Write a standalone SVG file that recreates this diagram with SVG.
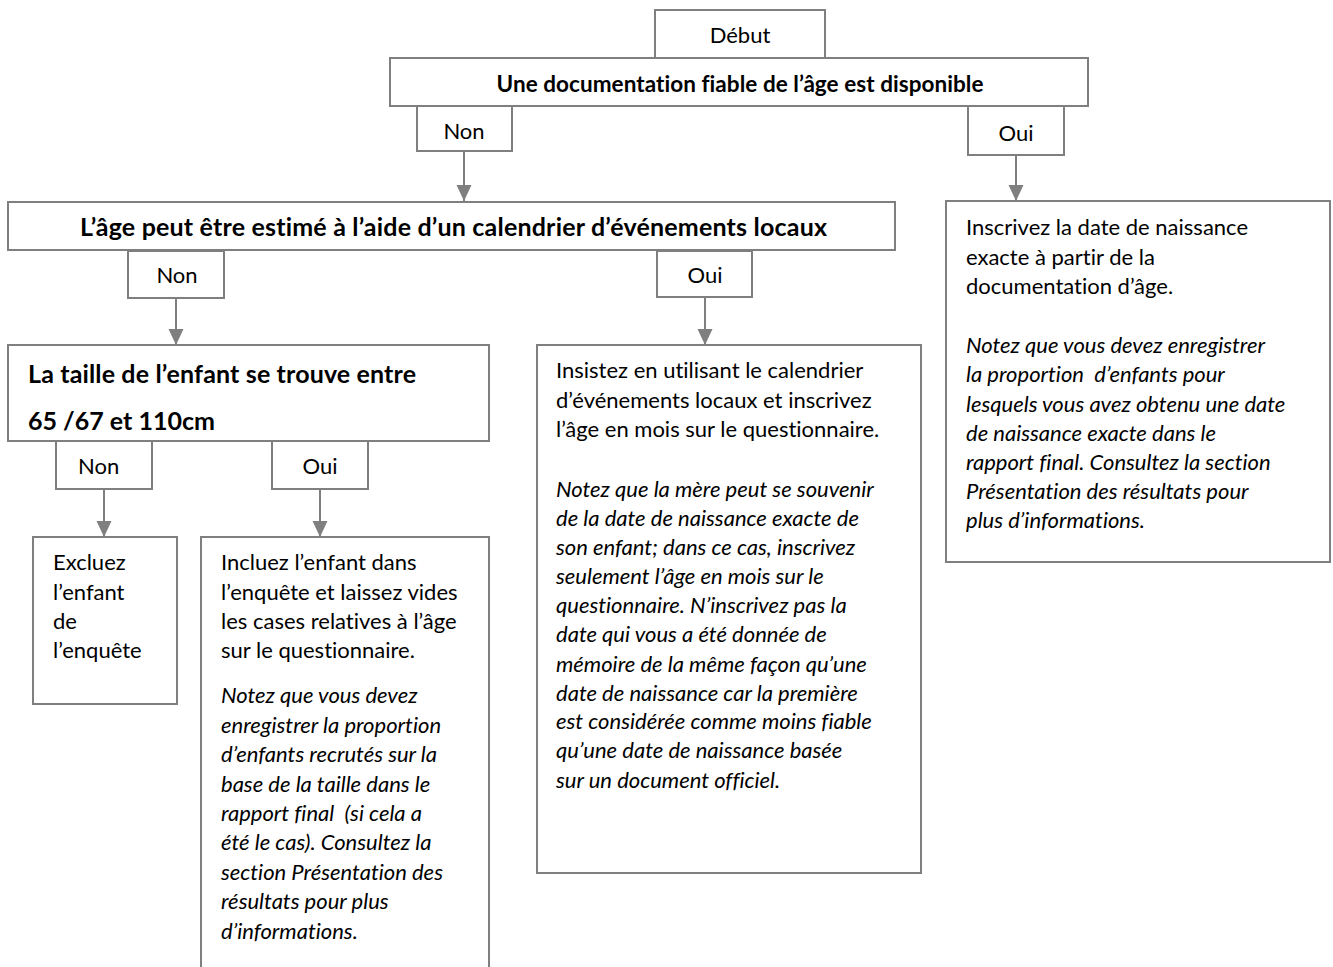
<svg xmlns="http://www.w3.org/2000/svg" width="1333" height="967" viewBox="0 0 1333 967">
<style>
.box{fill:#fff;stroke:#7f7f7f;stroke-width:2}
.t{font-family:Lato,"Liberation Sans",sans-serif;font-size:22px;fill:#000;white-space:pre;font-variant-ligatures:none}
.i{font-style:italic}
.c{text-anchor:middle}
.b{font-weight:bold}
.h1{font-size:22.5px}
.h2{font-size:25px}
.conn{stroke:#7f7f7f;stroke-width:2;fill:none;marker-end:url(#arr)}
</style>
<defs>
<marker id="arr" markerUnits="userSpaceOnUse" markerWidth="16" markerHeight="16" viewBox="0 0 16 16" refX="16" refY="8" orient="auto">
<path d="M0,0.5 L16,8 L0,15.5 z" fill="#7f7f7f"/>
</marker>
<clipPath id="clip2"><rect x="8" y="203" width="887" height="37"/></clipPath>
</defs>
<rect width="1333" height="967" fill="#fff"/>

<g id="connectors">
<line class="conn" x1="464" y1="151" x2="464" y2="201"/>
<line class="conn" x1="1016" y1="155" x2="1016" y2="201"/>
<line class="conn" x1="176" y1="298" x2="176" y2="345"/>
<line class="conn" x1="705" y1="297" x2="705" y2="345"/>
<line class="conn" x1="104" y1="489" x2="104" y2="537"/>
<line class="conn" x1="320" y1="489" x2="320" y2="537"/>
</g>

<g id="debut">
<rect class="box" x="655" y="10" width="170" height="48"/>
<text class="t c" x="740" y="43">Début</text>
</g>

<g id="q1">
<rect class="box" x="390" y="58" width="698" height="48"/>
<text class="t c b h1" x="740" y="92" textLength="487" lengthAdjust="spacing">Une documentation fiable de l’âge est disponible</text>
</g>

<g id="q1-non">
<rect class="box" x="417" y="106" width="95" height="45"/>
<text class="t c" x="464" y="139">Non</text>
</g>

<g id="q1-oui">
<rect class="box" x="968" y="106" width="96" height="49"/>
<text class="t c" x="1016" y="141">Oui</text>
</g>

<g id="q2">
<rect class="box" x="8" y="202" width="887" height="48"/>
<text class="t b h2" x="80" y="236" textLength="747" lengthAdjust="spacing" clip-path="url(#clip2)">L’âge peut être estimé à l’aide d’un calendrier d’événements locaux</text>
</g>

<g id="q2-non">
<rect class="box" x="128" y="251" width="96" height="47"/>
<text class="t c" x="177" y="283">Non</text>
</g>

<g id="q2-oui">
<rect class="box" x="657" y="251" width="95" height="46"/>
<text class="t c" x="705" y="283">Oui</text>
</g>

<g id="q3">
<rect class="box" x="8" y="345" width="481" height="96"/>
<text class="t b h2" x="28" y="383" textLength="388" lengthAdjust="spacing">La taille de l’enfant se trouve entre</text>
<text class="t b h2" x="28" y="430">65 /67 et 110cm</text>
</g>

<g id="q3-non">
<rect class="box" x="56" y="441" width="96" height="48"/>
<text class="t" x="78" y="474">Non</text>
</g>

<g id="q3-oui">
<rect class="box" x="272" y="441" width="96" height="48"/>
<text class="t c" x="320" y="474">Oui</text>
</g>

<g id="exclude">
<rect class="box" x="33" y="537" width="144" height="167"/>
<text class="t" x="53" y="570">Excluez</text>
<text class="t" x="53" y="600">l’enfant</text>
<text class="t" x="53" y="629">de</text>
<text class="t" x="53" y="658">l’enquête</text>
</g>

<g id="include">
<rect class="box" x="201" y="537" width="288" height="450"/>
<text class="t" x="221" y="570">Incluez l’enfant dans</text>
<text class="t" x="221" y="600">l’enquête et laissez vides</text>
<text class="t" x="221" y="629">les cases relatives à l’âge</text>
<text class="t" x="221" y="658">sur le questionnaire.</text>
<text class="t i" x="221" y="703">Notez que vous devez</text>
<text class="t i" x="221" y="733">enregistrer la proportion</text>
<text class="t i" x="221" y="762">d’enfants recrutés sur la</text>
<text class="t i" x="221" y="792">base de la taille dans le</text>
<text class="t i" x="221" y="821">rapport final  (si cela a</text>
<text class="t i" x="221" y="850">été le cas). Consultez la</text>
<text class="t i" x="221" y="880">section Présentation des</text>
<text class="t i" x="221" y="909">résultats pour plus</text>
<text class="t i" x="221" y="939">d’informations.</text>
</g>

<g id="insist">
<rect class="box" x="537" y="345" width="384" height="528"/>
<text class="t" x="556" y="378">Insistez en utilisant le calendrier</text>
<text class="t" x="556" y="408">d’événements locaux et inscrivez</text>
<text class="t" x="556" y="437">l’âge en mois sur le questionnaire.</text>
<text class="t i" x="556" y="497">Notez que la mère peut se souvenir</text>
<text class="t i" x="556" y="526">de la date de naissance exacte de</text>
<text class="t i" x="556" y="555">son enfant; dans ce cas, inscrivez</text>
<text class="t i" x="556" y="584">seulement l’âge en mois sur le</text>
<text class="t i" x="556" y="613">questionnaire. N’inscrivez pas la</text>
<text class="t i" x="556" y="642">date qui vous a été donnée de</text>
<text class="t i" x="556" y="672">mémoire de la même façon qu’une</text>
<text class="t i" x="556" y="701">date de naissance car la première</text>
<text class="t i" x="556" y="729">est considérée comme moins fiable</text>
<text class="t i" x="556" y="758">qu’une date de naissance basée</text>
<text class="t i" x="556" y="788">sur un document officiel.</text>
</g>

<g id="record">
<rect class="box" x="946" y="201" width="384" height="361"/>
<text class="t" x="966" y="235">Inscrivez la date de naissance</text>
<text class="t" x="966" y="265">exacte à partir de la</text>
<text class="t" x="966" y="294">documentation d’âge.</text>
<text class="t i" x="966" y="353">Notez que vous devez enregistrer</text>
<text class="t i" x="966" y="382">la proportion  d’enfants pour</text>
<text class="t i" x="966" y="412">lesquels vous avez obtenu une date</text>
<text class="t i" x="966" y="441">de naissance exacte dans le</text>
<text class="t i" x="966" y="470">rapport final. Consultez la section</text>
<text class="t i" x="966" y="499">Présentation des résultats pour</text>
<text class="t i" x="966" y="528">plus d’informations.</text>
</g>
</svg>
